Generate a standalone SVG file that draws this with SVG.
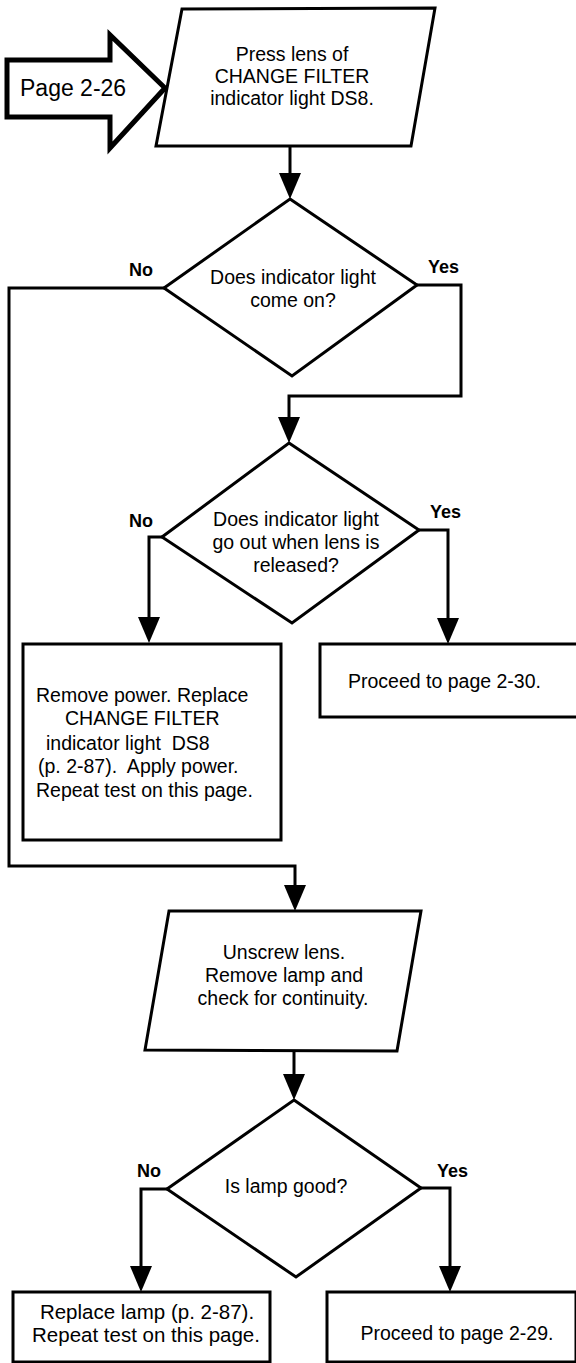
<svg xmlns="http://www.w3.org/2000/svg" width="576" height="1363" viewBox="0 0 576 1363">
<style>
.sh{fill:#fff;stroke:#000;stroke-width:3;stroke-linejoin:miter}
.t{font-family:"Liberation Sans",Arial,sans-serif;font-size:19.5px;fill:#000;white-space:pre}
.c{text-anchor:middle}
.lb{font-family:"Liberation Sans",Arial,sans-serif;font-size:18px;font-weight:bold;fill:#000}
.cn{fill:none;stroke:#000;stroke-width:3;marker-end:url(#ah)}
</style>
<defs>
<marker id="ah" markerUnits="userSpaceOnUse" viewBox="0 -11 26 22" refX="20" refY="0" markerWidth="26" markerHeight="22" orient="auto">
<path d="M0,-11 L26,0 L0,11 Z" fill="#000"/>
</marker>
</defs>
<rect width="576" height="1363" fill="#fff"/>

<g id="connectors">
<path class="cn" d="M290,146 V193"/>
<path class="cn" d="M164,288 H9 V866 H295 V905"/>
<path class="cn" d="M417,285 H461 V396 H289 V437"/>
<path class="cn" d="M162,537 H149 V637"/>
<path class="cn" d="M419,530 H448 V638"/>
<path class="cn" d="M294,1051 V1094"/>
<path class="cn" d="M167,1189 H141 V1286"/>
<path class="cn" d="M421,1188 H450 V1286"/>
</g>

<g id="page-ref">
<path d="M7,60 H110 V35 L165,88 L110,148 V117 H7 Z" fill="#fff" stroke="#000" stroke-width="5" stroke-linejoin="miter"/>
<text x="20" y="96" style="font-family:'Liberation Sans',Arial,sans-serif;font-size:23px;fill:#000">Page 2-26</text>
</g>

<g id="press-lens">
<path class="sh" d="M182,9 L435,8 L411,146 L156,146 Z"/>
<text class="t c" x="292" y="61">Press lens of</text>
<text class="t c" x="292" y="83">CHANGE FILTER</text>
<text class="t c" x="292" y="105">indicator light DS8.</text>
</g>

<g id="decision-come-on">
<path class="sh" d="M290,199 L417,285 L292,376 L164,288 Z"/>
<text class="t c" x="293" y="284">Does indicator light</text>
<text class="t c" x="293" y="307">come on?</text>
<text class="lb" x="129" y="276">No</text>
<text class="lb" x="428" y="273">Yes</text>
</g>

<g id="decision-go-out">
<path class="sh" d="M289,443 L419,530 L292,623 L162,537 Z"/>
<text class="t c" x="296" y="526">Does indicator light</text>
<text class="t c" x="296" y="549">go out when lens is</text>
<text class="t c" x="296" y="572">released?</text>
<text class="lb" x="129" y="527">No</text>
<text class="lb" x="430" y="518">Yes</text>
</g>

<g id="replace-ds8">
<rect class="sh" x="23" y="644" width="258" height="196"/>
<text class="t" x="36" y="702">Remove power. Replace</text>
<text class="t" x="65" y="725">CHANGE FILTER</text>
<text class="t" x="46" y="750">indicator light  DS8</text>
<text class="t" x="38" y="773">(p. 2-87).  Apply power.</text>
<text class="t" x="36" y="797">Repeat test on this page.</text>
</g>

<g id="proceed-2-30">
<rect class="sh" x="320" y="644" width="258" height="73"/>
<text class="t" x="348" y="688">Proceed to page 2-30.</text>
</g>

<g id="unscrew-lens">
<path class="sh" d="M169,911 L421,911 L397,1051 L145,1050 Z"/>
<text class="t c" x="284" y="959">Unscrew lens.</text>
<text class="t c" x="284" y="982">Remove lamp and</text>
<text class="t c" x="283" y="1005">check for continuity.</text>
</g>

<g id="decision-lamp">
<path class="sh" d="M294,1100 L421,1188 L296,1277 L167,1189 Z"/>
<text class="t c" x="286" y="1193">Is lamp good?</text>
<text class="lb" x="137" y="1177">No</text>
<text class="lb" x="437" y="1177">Yes</text>
</g>

<g id="replace-lamp">
<rect class="sh" x="13" y="1292" width="257" height="70"/>
<text class="t c" x="147" y="1319" style="font-size:20.5px">Replace lamp (p. 2-87).</text>
<text class="t c" x="146" y="1342" style="font-size:20.5px">Repeat test on this page.</text>
</g>

<g id="proceed-2-29">
<rect class="sh" x="327" y="1292" width="249" height="70"/>
<text class="t c" x="457" y="1340">Proceed to page 2-29.</text>
</g>
</svg>
